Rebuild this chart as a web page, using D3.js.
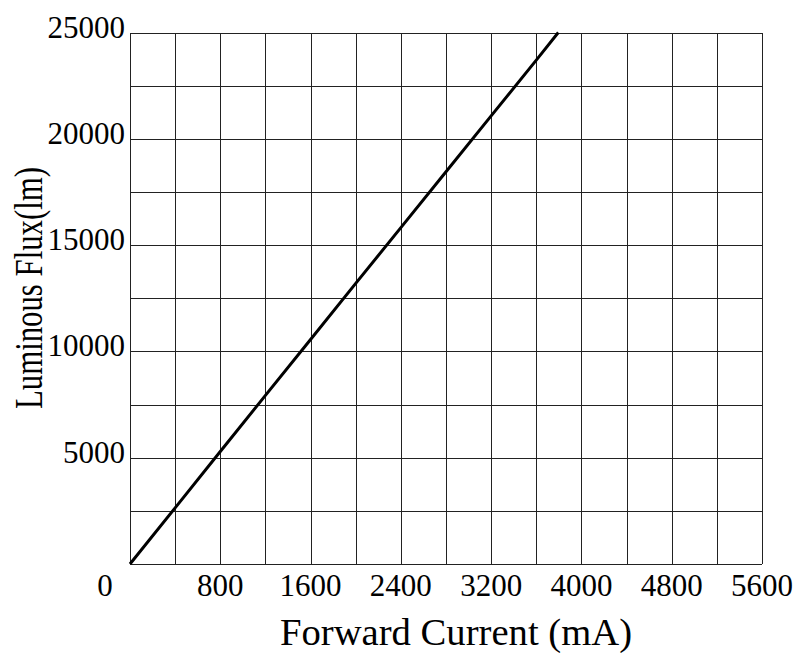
<!doctype html>
<html lang="en">
<head>
    <meta charset="UTF-8">
    <title>Luminous Flux vs Forward Current</title>
    <style>
        body {
            margin: 0;
            padding: 0;
            background-color: #fff;
        }
        svg text {
            font-family: "Liberation Serif", "Times New Roman", serif;
            fill: #000;
        }
        .grid line {
            stroke: #222;
            stroke-width: 1px;
            shape-rendering: crispEdges;
        }
        .curve {
            fill: none;
            stroke: #000;
            stroke-width: 3px;
        }
    </style>
</head>
<body>
    <svg width="798" height="653"></svg>

    <script src="https://d3js.org/d3.v7.min.js"></script>
    <script>
        // data
        const current = [0, 400, 800, 1200, 1600, 2000, 2400, 2800, 3200, 3600, 3795];
        const flux = [0, 2640, 5290, 7930, 10560, 13200, 15820, 18450, 21080, 23700, 25000];

        const xTickLabels = [800, 1600, 2400, 3200, 4000, 4800, 5600];
        const yTickLabels = [5000, 10000, 15000, 20000, 25000];
        const xGrid = d3.range(0, 5601, 400);
        const yGrid = d3.range(0, 25001, 2500);

        const plot = { left: 130, right: 762, top: 32.5, bottom: 564 };

        const x = d3.scaleLinear().domain([0, 5600]).range([plot.left, plot.right]);
        const y = d3.scaleLinear().domain([0, 25000]).range([plot.bottom, plot.top]);

        const svg = d3.select("svg");

        // grid
        const grid = svg.append("g").attr("class", "grid");
        grid.selectAll(".vx")
            .data(xGrid)
            .enter()
            .append("line")
            .attr("x1", d => Math.round(x(d)) + 0.5)
            .attr("x2", d => Math.round(x(d)) + 0.5)
            .attr("y1", y(25000))
            .attr("y2", y(0));
        grid.selectAll(".hy")
            .data(yGrid)
            .enter()
            .append("line")
            .attr("x1", x(0))
            .attr("x2", x(5600))
            .attr("y1", d => Math.round(y(d)) + 0.5)
            .attr("y2", d => Math.round(y(d)) + 0.5);

        // curve
        const pts = current.map((c, i) => [c, flux[i]]);
        svg.append("path")
            .datum(pts)
            .attr("class", "curve")
            .attr("d", d3.line().x(d => x(d[0])).y(d => y(d[1])));

        // tick labels
        svg.selectAll(".xl")
            .data(xTickLabels)
            .enter()
            .append("text")
            .attr("x", d => x(d))
            .attr("y", 596)
            .attr("text-anchor", "middle")
            .style("font-size", "31px")
            .text(d => d);

        svg.append("text")
            .attr("x", 105)
            .attr("y", 596)
            .attr("text-anchor", "middle")
            .style("font-size", "31px")
            .text("0");

        svg.selectAll(".yl")
            .data(yTickLabels)
            .enter()
            .append("text")
            .attr("x", 125)
            .attr("y", d => y(d) + 5)
            .attr("text-anchor", "end")
            .style("font-size", "31px")
            .text(d => d);

        // axis titles
        svg.append("text")
            .attr("x", 456)
            .attr("y", 645)
            .attr("text-anchor", "middle")
            .attr("textLength", 352)
            .attr("lengthAdjust", "spacingAndGlyphs")
            .style("font-size", "38px")
            .text("Forward Current (mA)");

        svg.append("text")
            .attr("transform", "translate(42,288) rotate(-90)")
            .attr("text-anchor", "middle")
            .attr("textLength", 242)
            .attr("lengthAdjust", "spacingAndGlyphs")
            .style("font-size", "40px")
            .text("Luminous Flux(lm)");
    </script>
</body>
</html>
